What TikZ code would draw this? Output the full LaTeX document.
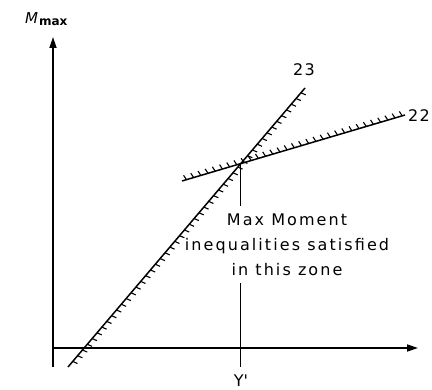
\documentclass[tikz,border=0pt]{standalone}
\usepackage{fontspec}
\setmainfont{DejaVu Sans}
\usetikzlibrary{decorations.markings,arrows.meta}
\begin{document}
\begin{tikzpicture}[x=1pt,y=-1pt,
  axis/.style={line width=1.7pt,-{Triangle[length=11pt,width=7pt]}},
  hatchright/.style={line width=1.5pt,postaction={decorate},decoration={markings,
     mark=between positions 0.02 and 1 step 7.5pt with {\draw[line width=1.1pt] (0,0) -- (1.5pt,-5pt);}}},
  hatchup/.style={line width=1.5pt,postaction={decorate},decoration={markings,
     mark=between positions 0.02 and 1 step 7.5pt with {\draw[line width=1.1pt] (0,0) -- (-1.5pt,5pt);}}},
  lbl/.style={font=\fontsize{16}{19}\selectfont\addfontfeature{LetterSpace=8},inner sep=0pt},
  thin/.style={line width=0.9pt}]
\useasboundingbox (0,0) rectangle (432,390);
\coordinate (ybot) at (53,367);
\coordinate (ytop) at (53,37);
\coordinate (xleft) at (53,348);
\coordinate (xright) at (418,348);
\draw[axis] (ybot) -- (ytop);
\draw[axis] (xleft) -- (xright);
\coordinate (a1) at (68,367);
\coordinate (a2) at (305,88);
\coordinate (b1) at (182,181);
\coordinate (b2) at (405,115);
\draw[hatchright] (a1) -- (a2);
\draw[hatchup] (b1) -- (b2);
\node[lbl] (l23) at (304,70) {23};
\node[lbl,anchor=west] (l22) at (408,116) {22};
\node[lbl,align=center,font=\fontsize{16}{25}\selectfont\addfontfeature{LetterSpace=13}] (zone) at (287,245) {Max Moment\\inequalities satisfied\\in this zone};
\coordinate (X) at (240,164);
\coordinate (v1) at (240,206);
\coordinate (v2) at (240,283);
\coordinate (v3) at (240,367);
\draw[thin] (X) -- (v1);
\draw[thin] (v2) -- (v3);
\node[lbl,anchor=base] (yp) at (241,387) {Y\textquotesingle};
\node[inner sep=0pt,anchor=south west] (mmax) at (25,26) {\fontsize{15}{17}\selectfont\itshape M\kern1pt\raisebox{-2.5pt}{\fontsize{12}{14}\selectfont\upshape\bfseries max}};
\end{tikzpicture}
\end{document}
